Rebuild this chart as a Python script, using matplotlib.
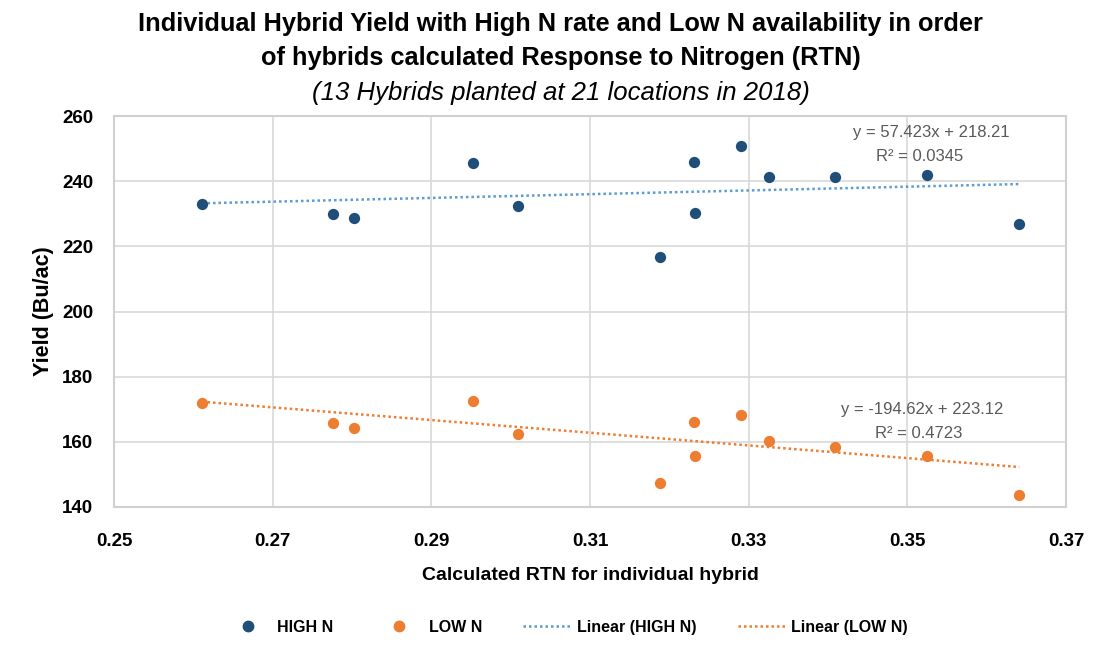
import matplotlib
matplotlib.use("Agg")
import matplotlib.pyplot as plt
from matplotlib.lines import Line2D
import numpy as np

# Data
rtn = [0.2611, 0.2776, 0.2803, 0.2953, 0.3009, 0.3188, 0.3231, 0.3232,
       0.3290, 0.3325, 0.3409, 0.3525, 0.3641]
high_n = [233.0, 229.8, 228.8, 245.5, 232.5, 216.8, 245.9, 230.2,
          250.9, 241.2, 241.2, 241.8, 226.9]
low_n = [171.9, 165.8, 164.2, 172.4, 162.4, 147.5, 166.2, 155.6,
         168.1, 160.4, 158.5, 155.6, 143.6]
high_fit = (57.423, 218.21, 0.0345)
low_fit = (-194.62, 223.12, 0.4723)
x_ticks = [0.25, 0.27, 0.29, 0.31, 0.33, 0.35, 0.37]
y_ticks = [140, 160, 180, 200, 220, 240, 260]

FONT = ["Liberation Sans Narrow", "Liberation Sans", "DejaVu Sans"]
plt.rcParams['font.family'] = FONT

fig = plt.figure(figsize=(11.14, 6.54), dpi=100)
ax = fig.add_axes([0.1023, 0.2248, 0.8547, 0.5978])

c_high = "#1f4e79"
c_low = "#ed7d31"
c_high_tr = "#5b9bd5"
c_low_tr = "#ed7d31"
dots = (0, (1, 1.2))

ax.scatter(rtn, high_n, s=66, color=c_high, zorder=3, linewidths=0)
ax.scatter(rtn, low_n, s=66, color=c_low, zorder=3, linewidths=0)

xs = np.array([min(rtn), max(rtn)])
ax.plot(xs, high_fit[0] * xs + high_fit[1], color=c_high_tr, lw=1.8,
        linestyle=dots, zorder=2)
ax.plot(xs, low_fit[0] * xs + low_fit[1], color=c_low_tr, lw=1.8,
        linestyle=dots, zorder=2)

ax.set_xlim(0.25, 0.37)
ax.set_ylim(140, 260)
ax.set_xticks(x_ticks)
ax.set_yticks(y_ticks)
ax.set_xticklabels([f"{v:.2f}" for v in x_ticks], fontsize=13.5, fontweight="bold")
ax.set_yticklabels([str(v) for v in y_ticks], fontsize=13.5, fontweight="bold")
ax.tick_params(axis="x", length=0, pad=19)
ax.tick_params(axis="y", length=0, pad=15)
ax.grid(True, color="#d9d9d9", lw=1.2)
ax.set_axisbelow(True)
for s in ax.spines.values():
    s.set_color("#d0d0d0")
    s.set_linewidth(1.5)

ax.set_xlabel("Calculated RTN for individual hybrid", fontsize=14,
              fontweight="bold", labelpad=12)
ax.set_ylabel("Yield (Bu/ac)", fontsize=15.5, fontweight="bold", labelpad=6)

gray = "#595959"
ax.text(0.3530, 255.0, f"y = {high_fit[0]}x + {high_fit[1]}", fontsize=12,
        color=gray, ha="center", va="center")
ax.text(0.3516, 247.6, f"R² = {high_fit[2]}", fontsize=12,
        color=gray, ha="center", va="center")
ax.text(0.3518, 170.0, f"y = {low_fit[0]}x + {low_fit[1]}", fontsize=12,
        color=gray, ha="center", va="center")
ax.text(0.3514, 162.6, f"R² = {low_fit[2]}", fontsize=12,
        color=gray, ha="center", va="center")

fig.text(0.5035, 0.963, "Individual Hybrid Yield with High N rate and Low N availability in order",
         fontsize=18.3, fontweight="bold", ha="center", va="center")
fig.text(0.5035, 0.911, "of hybrids calculated Response to Nitrogen (RTN)",
         fontsize=18.3, fontweight="bold", ha="center", va="center")
fig.text(0.5035, 0.858, "(13 Hybrids planted at 21 locations in 2018)",
         fontsize=18.5, fontstyle="italic", ha="center", va="center")

handles = [
    Line2D([], [], marker="o", color=c_high, linestyle="none", markersize=7.5),
    Line2D([], [], marker="o", color=c_low, linestyle="none", markersize=7.5),
    Line2D([], [], color=c_high_tr, lw=1.8, linestyle=dots),
    Line2D([], [], color=c_low_tr, lw=1.8, linestyle=dots),
]
labels = ["HIGH N", "LOW N", "Linear (HIGH N)", "Linear (LOW N)"]
fig.legend(handles, labels, loc="center", bbox_to_anchor=(0.508, 0.041), ncol=4,
           frameon=False, prop={"family": FONT, "weight": "bold", "size": 11.5},
           columnspacing=2.6, handlelength=3.0, handletextpad=0.35)

fig.savefig("out.png", dpi=100)
